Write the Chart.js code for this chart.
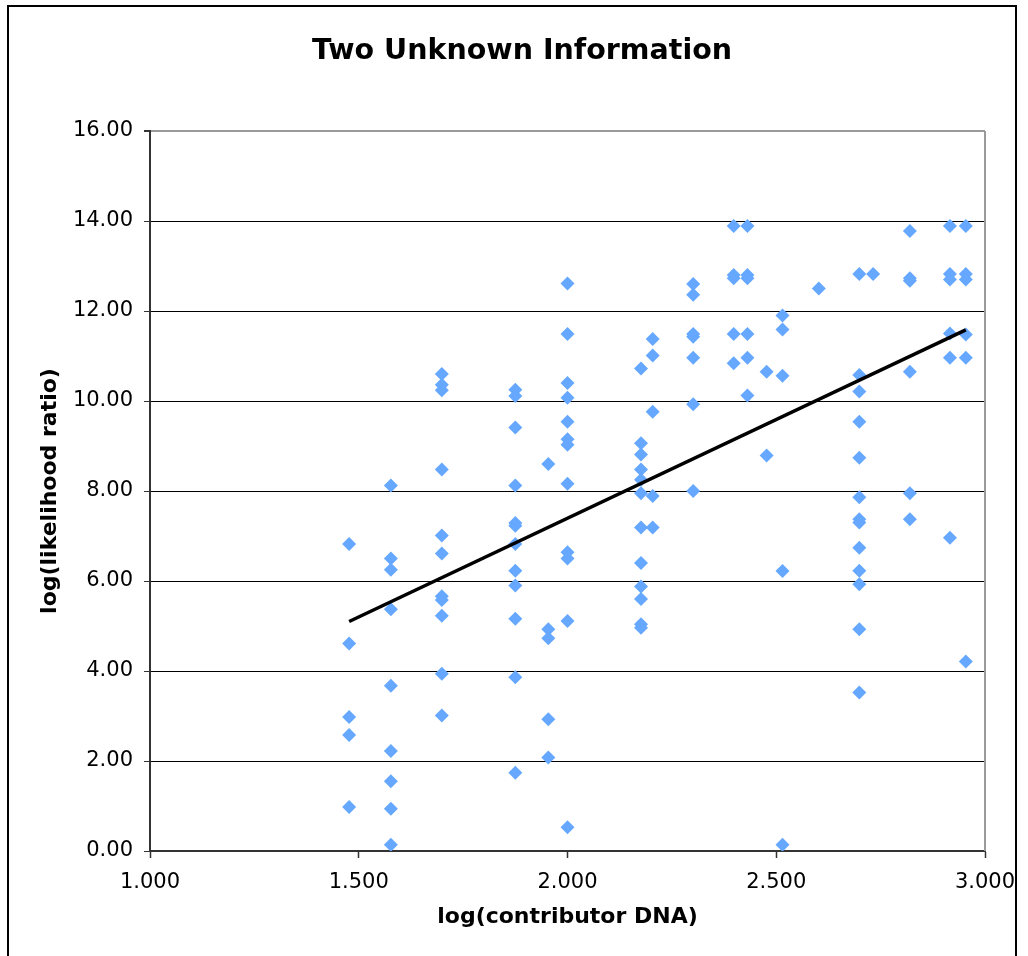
<!DOCTYPE html>
<html>
<head>
<meta charset="utf-8">
<title>Two Unknown Information</title>
<script src="https://cdn.jsdelivr.net/npm/chart.js@4.4.1/dist/chart.umd.min.js"></script>
<style>
  html, body { margin: 0; padding: 0; background: #fff; }
  canvas { display: block; }
</style>
</head>
<body>
<canvas id="lrChart" width="1028" height="956"></canvas>
<script>
// log10 of contributor DNA amount, one entry per group of samples
const contributorLog = [1.477, 1.577, 1.699, 1.875, 1.954, 2.000, 2.176, 2.204, 2.301, 2.398,
                        2.431, 2.477, 2.515, 2.602, 2.699, 2.732, 2.820, 2.916, 2.954];

// log10 likelihood ratios measured at each contributor amount
const likelihoodLog = [
    [6.82, 4.61, 2.98, 2.58, 0.98],
    [8.12, 6.50, 6.25, 5.37, 3.67, 2.22, 1.55, 0.94, 0.14],
    [10.60, 10.36, 10.24, 8.48, 7.01, 6.61, 5.66, 5.58, 5.23, 3.94, 3.01],
    [10.25, 10.11, 9.41, 8.12, 7.29, 7.23, 6.82, 6.23, 5.90, 5.16, 3.86, 1.74],
    [8.60, 4.93, 4.73, 2.93, 2.08],
    [12.61, 11.49, 10.40, 10.07, 9.54, 9.15, 9.03, 8.16, 6.64, 6.50, 5.11, 0.53],
    [10.72, 9.06, 8.81, 8.48, 8.25, 7.95, 7.19, 6.40, 5.88, 5.60, 5.04, 4.96],
    [11.38, 11.01, 9.76, 7.89, 7.19],
    [12.60, 12.36, 11.49, 11.43, 10.96, 9.93, 8.00],
    [13.89, 12.80, 12.73, 11.49, 10.84],
    [13.89, 12.80, 12.73, 11.49, 10.96, 10.12],
    [10.65, 8.79],
    [11.90, 11.59, 10.56, 6.22, 0.14],
    [12.50],
    [12.82, 10.58, 10.21, 9.54, 8.74, 7.86, 7.37, 7.30, 6.74, 6.23, 5.93, 4.93, 3.52],
    [12.82],
    [13.78, 12.73, 12.67, 10.65, 7.95, 7.37],
    [13.89, 12.82, 12.70, 11.50, 10.96, 6.96],
    [13.89, 12.82, 12.70, 11.48, 10.96, 4.21]
];

// linear trend line end points
const trendX = [1.477, 2.954];
const trendY = [5.10, 11.58];

// axis ranges
const xRange = [1, 3, 0.5];
const yRange = [0, 16, 2];

const chartTitle = 'Two Unknown Information';

const points = [];
contributorLog.forEach((x, i) => {
    likelihoodLog[i].forEach(y => points.push({ x: x, y: y }));
});
const trend = trendX.map((x, i) => ({ x: x, y: trendY[i] }));

const FONT = "'DejaVu Sans', Verdana, sans-serif";

// frame round the whole chart, grey plot-area edge, centred title
const framePlugin = {
    id: 'frame',
    beforeDraw(chart) {
        const ctx = chart.ctx;
        ctx.save();
        ctx.fillStyle = '#fff';
        ctx.fillRect(0, 0, chart.width, chart.height);
        ctx.strokeStyle = '#000';
        ctx.lineWidth = 2;
        ctx.strokeRect(8, 6, 1008, 970);
        ctx.restore();
    },
    beforeDatasetsDraw(chart) {
        const { ctx, chartArea } = chart;
        ctx.save();
        ctx.strokeStyle = '#9a9a9a';
        ctx.lineWidth = 2;
        ctx.beginPath();
        ctx.moveTo(chartArea.right, chartArea.top);
        ctx.lineTo(chartArea.right, chartArea.bottom);
        ctx.stroke();
        ctx.restore();
    },
    afterDraw(chart) {
        const ctx = chart.ctx;
        ctx.save();
        ctx.fillStyle = '#000';
        ctx.font = 'bold 28.5px ' + FONT;
        ctx.textAlign = 'center';
        ctx.textBaseline = 'middle';
        ctx.fillText(chartTitle, 522, 52);
        ctx.restore();
    }
};

new Chart(document.getElementById('lrChart'), {
    type: 'scatter',
    data: {
        datasets: [
            {
                type: 'line',
                label: 'Linear trend',
                data: trend,
                borderColor: '#000',
                borderWidth: 3.5,
                pointRadius: 0,
                fill: false,
                order: 0
            },
            {
                label: 'log(likelihood ratio)',
                data: points,
                pointStyle: 'rectRot',
                pointRadius: 7,
                pointBackgroundColor: '#66a8ff',
                pointBorderWidth: 0,
                pointBorderColor: '#66a8ff',
                order: 1
            }
        ]
    },
    options: {
        responsive: false,
        animation: false,
        layout: { padding: { left: 0, right: 43, top: 131, bottom: 0 } },
        plugins: {
            legend: { display: false },
            tooltip: { enabled: false },
            title: { display: false }
        },
        scales: {
            x: {
                type: 'linear',
                min: xRange[0],
                max: xRange[1],
                afterFit: s => { s.height = 105; },
                ticks: {
                    stepSize: xRange[2],
                    color: '#000',
                    padding: 12,
                    font: { family: FONT, size: 21 },
                    callback: v => Number(v).toFixed(3)
                },
                grid: { drawOnChartArea: false, drawTicks: true, tickLength: 7, tickColor: '#333', tickWidth: 1.5 },
                border: { color: '#333', width: 2 },
                title: {
                    display: true,
                    text: 'log(contributor DNA)',
                    color: '#000',
                    font: { family: FONT, size: 22, weight: 'bold' },
                    padding: { top: 0, bottom: 25.8 }
                }
            },
            y: {
                type: 'linear',
                min: yRange[0],
                max: yRange[1],
                afterFit: s => { s.width = 150; },
                ticks: {
                    stepSize: yRange[2],
                    color: '#000',
                    padding: 11,
                    font: { family: FONT, size: 21 },
                    callback: v => Number(v).toFixed(2)
                },
                grid: {
                    color: c => (c.tick && c.tick.value === yRange[1]) ? '#9a9a9a' : '#000',
                    lineWidth: c => (c.tick && c.tick.value === yRange[1]) ? 2 : 1,
                    tickLength: 6,
                    tickColor: '#333'
                },
                border: { color: '#333', width: 2 },
                title: {
                    display: true,
                    text: 'log(likelihood ratio)',
                    color: '#000',
                    font: { family: FONT, size: 22, weight: 'bold' },
                    padding: { top: 36.8, bottom: 0 }
                }
            }
        }
    },
    plugins: [framePlugin]
});
</script>
</body>
</html>
